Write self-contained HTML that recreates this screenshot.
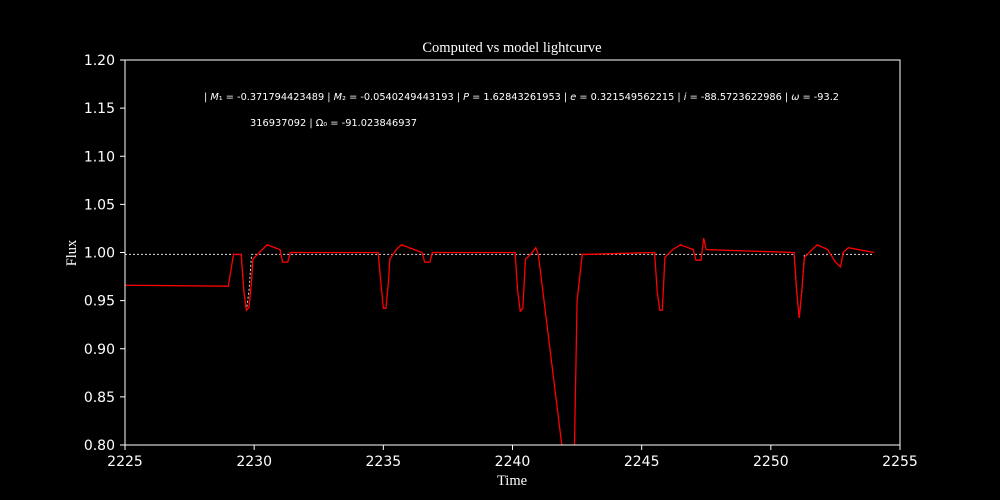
<!DOCTYPE html>
<html><head><meta charset="utf-8"><style>
body{margin:0;background:#000;}
svg{display:block}
</style></head><body>
<svg id="chart" width="1000" height="500" viewBox="0 0 1000 500">
<rect width="1000" height="500" fill="#000"/>
<defs><clipPath id="plotclip"><rect x="125" y="60" width="775" height="385"/></clipPath></defs>
<text x="512" y="52" fill="#fff" font-family="Liberation Serif, serif" font-size="14.5" text-anchor="middle">Computed vs model lightcurve</text>
<g id="xticks"></g>
<g id="yticks"></g>
<g clip-path="url(#plotclip)">
<path id="model" fill="none" stroke="#ddd" stroke-width="1" stroke-dasharray="2,2"/>
<path id="obs" fill="none" stroke="#ff0000" stroke-width="1.3"/>
</g>
<rect x="125" y="60" width="775" height="385" fill="none" stroke="#fff" stroke-width="1"/>
<text x="204" y="100" fill="#fff" font-family="DejaVu Sans, sans-serif" font-size="9.5" textLength="635" lengthAdjust="spacingAndGlyphs">| <tspan font-style="italic">M</tspan>₁ = -0.371794423489 | <tspan font-style="italic">M</tspan>₂ = -0.0540249443193 | <tspan font-style="italic">P</tspan> = 1.62843261953 | <tspan font-style="italic">e</tspan> = 0.321549562215 | <tspan font-style="italic">i</tspan> = -88.5723622986 | <tspan font-style="italic">ω</tspan> = -93.2</text>
<text x="250" y="126" fill="#fff" font-family="DejaVu Sans, sans-serif" font-size="9.5" textLength="167" lengthAdjust="spacingAndGlyphs">316937092 | Ω₀ = -91.023846937</text>
<text x="512" y="485" fill="#fff" font-family="Liberation Serif, serif" font-size="14.5" text-anchor="middle">Time</text>
<text x="76" y="253" fill="#fff" font-family="Liberation Serif, serif" font-size="14.5" text-anchor="middle" transform="rotate(-90 76 253)">Flux</text>
</svg>
<script>
const xTicks=[2225,2230,2235,2240,2245,2250,2255];
const yTicks=[0.80,0.85,0.90,0.95,1.00,1.05,1.10,1.15,1.20];
const obsTime=[2225,2229,2229.2,2229.5,2229.6,2229.7,2229.8,2229.9,2229.95,2230.2,2230.5,2231,2231.1,2231.3,2231.4,2234.8,2234.9,2235.0,2235.1,2235.2,2235.25,2235.5,2235.7,2236.2,2236.5,2236.6,2236.8,2236.9,2240.1,2240.2,2240.3,2240.4,2240.5,2240.7,2240.9,2241.0,2242.0,2242.4,2242.5,2242.7,2245.5,2245.6,2245.7,2245.8,2245.9,2246.2,2246.5,2247,2247.1,2247.3,2247.4,2247.5,2250.9,2251.0,2251.1,2251.2,2251.3,2251.6,2251.8,2252.2,2252.5,2252.7,2252.8,2253,2254];
const obsFlux=[0.966,0.965,0.998,0.998,0.96,0.94,0.943,0.97,0.993,1.0,1.008,1.003,0.99,0.99,1.0,1.0,0.97,0.942,0.942,0.97,0.993,1.003,1.008,1.003,1.0,0.99,0.99,1.0,1.0,0.96,0.939,0.942,0.993,0.998,1.005,0.998,0.78,0.8,0.95,0.998,1.0,0.96,0.94,0.94,0.995,1.003,1.008,1.003,0.992,0.992,1.015,1.003,1.0,0.96,0.932,0.96,0.995,1.003,1.008,1.003,0.99,0.985,1.0,1.005,1.0];
const modelTime=[2225,2229.5,2229.6,2229.7,2229.8,2229.9,2250.9,2251.0,2251.1,2251.2,2251.3,2254];
const modelFlux=[0.998,0.998,0.96,0.94,0.96,0.998,0.998,0.96,0.932,0.96,0.998,0.998];
const X=t=>125+(t-2225)/30*775;
const Y=f=>445-(f-0.8)/0.4*385;
const NS='http://www.w3.org/2000/svg';
const xg=document.getElementById('xticks'),yg=document.getElementById('yticks');
xTicks.forEach(t=>{
 const l=document.createElementNS(NS,'line');
 l.setAttribute('x1',X(t));l.setAttribute('x2',X(t));l.setAttribute('y1',445);l.setAttribute('y2',450);l.setAttribute('stroke','#fff');
 
 
 xg.appendChild(l);
 const tx=document.createElementNS(NS,'text');
 tx.setAttribute('x',X(t));tx.setAttribute('y',466);tx.setAttribute('fill','#fff');tx.setAttribute('font-size','14');tx.setAttribute('font-family','DejaVu Sans, sans-serif');tx.setAttribute('text-anchor','middle');
 tx.textContent=t;
 
 
 xg.appendChild(tx);
});
yTicks.forEach(v=>{
 const l=document.createElementNS(NS,'line');
 l.setAttribute('x1',120);l.setAttribute('x2',125);l.setAttribute('y1',Y(v));l.setAttribute('y2',Y(v));l.setAttribute('stroke','#fff');
 
 
 yg.appendChild(l);
 const tx=document.createElementNS(NS,'text');
 tx.setAttribute('x',115);tx.setAttribute('y',Y(v)+5);tx.setAttribute('fill','#fff');tx.setAttribute('font-size','14');tx.setAttribute('font-family','DejaVu Sans, sans-serif');tx.setAttribute('text-anchor','end');
 tx.textContent=v.toFixed(2);
 
 
 yg.appendChild(tx);
});
const pathOf=(ts,fs)=>ts.map((t,i)=>(i?'L':'M')+X(t).toFixed(2)+' '+Y(fs[i]).toFixed(2)).join(' ');
document.getElementById('obs').setAttribute('d',pathOf(obsTime,obsFlux));
document.getElementById('model').setAttribute('d',pathOf(modelTime,modelFlux));
</script>
</body></html>
